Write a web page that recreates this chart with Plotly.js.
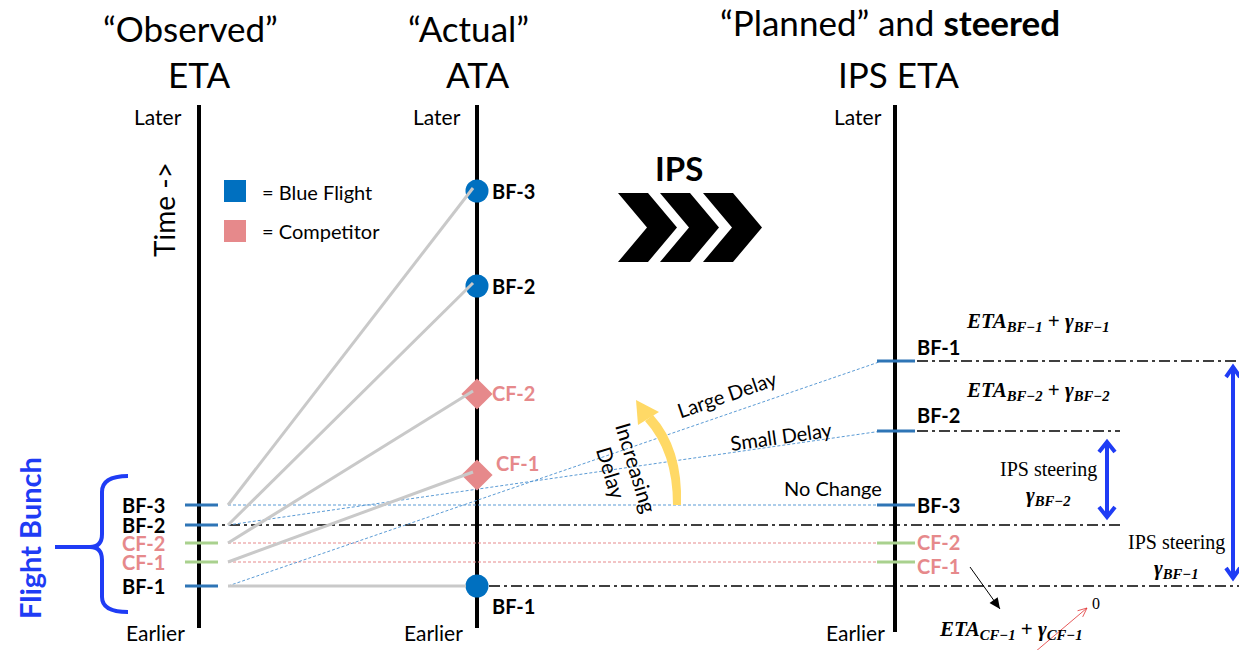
<!DOCTYPE html>
<html>
<head>
<meta charset="utf-8">
<script src="https://cdn.plot.ly/plotly-3.0.1.min.js"></script>
<style>html,body{margin:0;padding:0;background:#fff;}#chart{width:1239px;height:650px;}</style>
</head>
<body>
<div id="chart"></div>
<script>
// ---------------- DATA (time units: larger = later) ----------------
const flights     = ['BF-3', 'BF-2', 'CF-2', 'CF-1', 'BF-1'];
const isBlue      = [true, true, false, false, true];
const observedETA = [145, 125, 107, 88, 64];
const actualATA   = [459, 364, 256, 175, 64];
const ipsETA      = [145, 219, 107, 88, 289];
const delayLabels = ['No Change', 'Small Delay', '', '', 'Large Delay'];
const columnTitles = ['“Observed”<br>ETA', '“Actual”<br>ATA', '“Planned” and <b>steered</b><br>IPS ETA'];
const legendLabels = ['= Blue Flight', '= Competitor'];

// ---------------- STYLE / LAYOUT ----------------
const W = 1239, H = 650;
const Y = py => H - py;               // page pixel row -> axis value
const colX = {obs: 199, act: 477, ips: 895};
const BLUE = '#0070c0', BLUE_TICK = '#2e75b6', PINK = '#e6898b', GREEN = '#a9d18e';
const BRIGHT = '#1f3cf5', GRAY = '#c9c9c9', DASHBLUE = '#5b9bd5';
const FONT = 'Lato, "Open Sans", sans-serif';
const SERIF = '"Liberation Serif", "DejaVu Serif", serif';

const traces = [];
const shapes = [];
const annotations = [];

function txt(text, x, y, o) {
  o = o || {};
  annotations.push(Object.assign({
    text: text, x: x, y: y, xref: 'x', yref: 'y', showarrow: false,
    xanchor: 'center', yanchor: 'middle', borderpad: 0,
    font: {family: FONT, size: 20, color: '#000'}
  }, o));
}
function hline(x0, x1, y, color, width, dash, layer) {
  shapes.push({type: 'line', xref: 'x', yref: 'y', x0: x0, x1: x1, y0: y, y1: y,
    line: {color: color, width: width, dash: dash || 'solid'}, layer: layer || 'below'});
}
// arrow drawn as shapes; coordinates in axis units (x, time)
function arrowShape(x0, y0, x1, y1, color, width, headLen, headHalf, filled, both) {
  shapes.push({type: 'line', xref: 'x', yref: 'y', x0: x0, y0: y0, x1: x1, y1: y1, layer: 'above',
    line: {color: color, width: width}});
  const head = (tx, ty, fx, fy) => {
    const dx = tx - fx, dy = ty - fy, L = Math.hypot(dx, dy), ux = dx / L, uy = dy / L;
    const bx = tx - ux * headLen, by = ty - uy * headLen;
    const p1 = [bx - uy * headHalf, by + ux * headHalf], p2 = [bx + uy * headHalf, by - ux * headHalf];
    if (filled) {
      shapes.push({type: 'path', xref: 'x', yref: 'y', layer: 'above', fillcolor: color, line: {width: 0},
        path: `M ${tx} ${ty} L ${p1[0]} ${p1[1]} L ${p2[0]} ${p2[1]} Z`});
    } else {
      shapes.push({type: 'path', xref: 'x', yref: 'y', layer: 'above', line: {color: color, width: width},
        path: `M ${p1[0]} ${p1[1]} L ${tx} ${ty} L ${p2[0]} ${p2[1]}`});
    }
  };
  head(x1, y1, x0, y0);
  if (both) head(x0, y0, x1, y1);
}

// vertical time axes
[[colX.obs, 105, 628], [colX.act, 105, 628], [colX.ips, 105, 632]].forEach(a => {
  shapes.push({type: 'line', xref: 'x', yref: 'y', x0: a[0], x1: a[0], y0: Y(a[1]), y1: Y(a[2]),
    line: {color: '#000', width: 4}, layer: 'below'});
});

// dash-dot reference levels
const DD = '11px,4px,3px,4px';
hline(207, 1120, observedETA[1], '#000', 1.5, DD);
hline(313, 1239, observedETA[4], '#000', 1.5, DD);
hline(colX.ips, 1239, ipsETA[4], '#000', 1.5, DD);
hline(colX.ips, 1120, ipsETA[1], '#000', 1.5, DD);

// thin dashed projections from observed to IPS
flights.forEach((f, i) => {
  traces.push({x: [228, 882], y: [observedETA[i], ipsETA[i]], mode: 'lines', hoverinfo: 'skip',
    line: {color: isBlue[i] ? DASHBLUE : PINK, width: 1, dash: '3px,2px'}});
});

// tick marks on observed and IPS axes
flights.forEach((f, i) => {
  const c = isBlue[i] ? BLUE_TICK : GREEN;
  traces.push({x: [185, 218], y: [observedETA[i], observedETA[i]], mode: 'lines', hoverinfo: 'skip',
    line: {color: c, width: 3}});
  traces.push({x: [877, 915], y: [ipsETA[i], ipsETA[i]], mode: 'lines', hoverinfo: 'skip',
    line: {color: c, width: 3}});
});

// actual markers
traces.push({x: flights.map(() => colX.act), y: actualATA, mode: 'markers', hoverinfo: 'skip',
  marker: {symbol: isBlue.map(b => b ? 'circle' : 'diamond'), size: isBlue.map(b => b ? 23 : 24),
    color: isBlue.map(b => b ? BLUE : PINK), opacity: 1, line: {width: 0}}});

// gray connectors observed -> actual
flights.forEach((f, i) => {
  traces.push({x: [228, i === 4 ? 466 : 473], y: [observedETA[i], actualATA[i] + (i === 4 ? 0 : 3)],
    mode: 'lines', hoverinfo: 'skip', line: {color: GRAY, width: 3}});
});

// column titles
const titleX = [[190, 199], [468, 477], [890, 898]];
columnTitles.forEach((t, i) => {
  const parts = t.split('<br>');
  txt(parts[0], titleX[i][0], Y(i === 2 ? 22 : 28), {font: {family: FONT, size: 35, color: '#000'}});
  txt(parts[1], titleX[i][1], Y(74), {font: {family: FONT, size: 35, color: '#000'}});
});

// Later / Earlier
[[158, 155], [437, 433], [858, 855]].forEach(p => {
  txt('Later', p[0], Y(116), {font: {family: FONT, size: 21, color: '#000'}});
  txt('Earlier', p[1], Y(632), {font: {family: FONT, size: 21, color: '#000'}});
});

// Time ->
txt('Time ->', 164, Y(210), {textangle: -90, font: {family: FONT, size: 28, color: '#000'}});

// legend
shapes.push({type: 'rect', xref: 'x', yref: 'y', x0: 224, x1: 246, y0: Y(180), y1: Y(202), fillcolor: BLUE, line: {width: 0}});
shapes.push({type: 'rect', xref: 'x', yref: 'y', x0: 224, x1: 246, y0: Y(220), y1: Y(242), fillcolor: PINK, line: {width: 0}});
txt(legendLabels[0], 261, Y(192), {xanchor: 'left', font: {family: FONT, size: 20, color: '#000'}});
txt(legendLabels[1], 261, Y(231), {xanchor: 'left', font: {family: FONT, size: 20, color: '#000'}});

// flight labels
const lab = (i) => ({family: FONT, size: 20, color: isBlue[i] ? '#000' : PINK});
flights.forEach((f, i) => {
  annotations.push({text: '<b>' + f + '</b>', x: 166, y: observedETA[i], xref: 'x', yref: 'y', showarrow: false,
    xanchor: 'right', yanchor: 'middle', borderpad: 0, font: lab(i)});
});
const actOff = [[491, 0], [491, 0], [491, 1], [495, 12], [491, -20]];
flights.forEach((f, i) => {
  annotations.push({text: '<b>' + f + '</b>', x: actOff[i][0], y: actualATA[i] + actOff[i][1], xref: 'x', yref: 'y',
    showarrow: false, xanchor: 'left', yanchor: 'middle', borderpad: 0, font: lab(i)});
});
const ipsOff = [0, 16, 1, -4, 14];
flights.forEach((f, i) => {
  annotations.push({text: '<b>' + f + '</b>', x: 916, y: ipsETA[i] + ipsOff[i], xref: 'x', yref: 'y',
    showarrow: false, xanchor: 'left', yanchor: 'middle', borderpad: 0, font: lab(i)});
});

// Flight Bunch brace
shapes.push({type: 'path', xref: 'x', yref: 'y', layer: 'above',
  path: `M 128 ${Y(476)} Q 102 ${Y(476)} 102 ${Y(492)} L 102 ${Y(534)} Q 102 ${Y(547)} 90 ${Y(547)} Q 102 ${Y(547)} 102 ${Y(560)} L 102 ${Y(597)} Q 102 ${Y(612)} 128 ${Y(612)}`,
  line: {color: BRIGHT, width: 4}});
shapes.push({type: 'line', xref: 'x', yref: 'y', x0: 55, x1: 92, y0: Y(547), y1: Y(547), line: {color: BRIGHT, width: 4}});
txt('<b>Flight Bunch</b>', 29, Y(538), {textangle: -90, font: {family: FONT, size: 29, color: BRIGHT}});

// IPS chevrons
txt('<b>IPS</b>', 679, Y(168), {font: {family: FONT, size: 33, color: '#000'}});
[618, 660, 703].forEach(s => {
  shapes.push({type: 'path', xref: 'x', yref: 'y', fillcolor: '#000', line: {width: 0},
    path: `M ${s} ${Y(193)} L ${s + 30} ${Y(193)} L ${s + 59} ${Y(227.5)} L ${s + 30} ${Y(262)} L ${s} ${Y(262)} L ${s + 29} ${Y(227.5)} Z`});
});

// yellow "increasing delay" arrow
shapes.push({type: 'path', xref: 'x', yref: 'y', fillcolor: '#ffd966', line: {width: 0}, layer: 'above',
  path: `M 673 ${Y(505)} Q 673 ${Y(452)} 645 ${Y(421)} L 653 ${Y(415)} Q 683 ${Y(448)} 681 ${Y(505)} Z`});
shapes.push({type: 'path', xref: 'x', yref: 'y', fillcolor: '#ffd966', line: {width: 0}, layer: 'above',
  path: `M 636 ${Y(400)} L 638 ${Y(425)} L 659 ${Y(412)} Z`});
txt('Increasing', 637, Y(467), {textangle: 73, font: {family: FONT, size: 21, color: '#000'}});
txt('Delay', 612, Y(472), {textangle: 73, font: {family: FONT, size: 21, color: '#000'}});

// delay labels along projections
const delayPos = {'Large Delay': [727, 394, -19], 'Small Delay': [781, 436, -8], 'No Change': [833, 488, 0]};
delayLabels.forEach(l => {
  if (!l) return;
  const p = delayPos[l];
  txt(l, p[0], Y(p[1]), {textangle: p[2], font: {family: FONT, size: 20, color: '#000'}});
});

// math labels
const math = (a, b) => `<b><i>${a}</i></b><sub><b><i>${b}</i></b></sub><b> + </b><b><i>γ</i></b><sub><b><i>${b}</i></b></sub>`;
txt(math('ETA', 'BF−1'), 1038, Y(322), {font: {family: SERIF, size: 21, color: '#000'}});
txt(math('ETA', 'BF−2'), 1038, Y(391), {font: {family: SERIF, size: 21, color: '#000'}});
txt(math('ETA', 'CF−1'), 1011, Y(630), {font: {family: SERIF, size: 21, color: '#000'}});
txt('0', 1096, Y(603), {font: {family: SERIF, size: 16, color: '#000'}});

// IPS steering annotations
txt('IPS steering', 1048, Y(469), {font: {family: SERIF, size: 20, color: '#000'}});
txt('<b><i>γ</i></b><sub><b><i>BF−2</i></b></sub>', 1048, Y(496), {font: {family: SERIF, size: 21, color: '#000'}});
txt('IPS steering', 1176, Y(542), {font: {family: SERIF, size: 20, color: '#000'}});
txt('<b><i>γ</i></b><sub><b><i>BF−1</i></b></sub>', 1176, Y(569), {font: {family: SERIF, size: 21, color: '#000'}});

// arrows
arrowShape(1107, ipsETA[1] - 11, 1107, observedETA[1] + 8, BRIGHT, 4, 10, 8, false, true);
arrowShape(1233, ipsETA[4] - 6, 1233, observedETA[4] + 8, BRIGHT, 4, 10, 7, false, true);
arrowShape(970, Y(567), 1000, Y(609), '#000', 1, 11, 5, true, false);
arrowShape(1035, Y(652), 1087, Y(608), '#e03030', 0.8, 9, 4, false, false);

const layout = {
  width: W, height: H, margin: {l: 0, r: 0, t: 0, b: 0},
  paper_bgcolor: '#fff', plot_bgcolor: '#fff', showlegend: false,
  xaxis: {range: [0, W], visible: false, fixedrange: true},
  yaxis: {range: [0, H], visible: false, fixedrange: true},
  shapes: shapes, annotations: annotations
};
Plotly.newPlot('chart', traces, layout, {staticPlot: true, displayModeBar: false});
</script>
</body>
</html>
